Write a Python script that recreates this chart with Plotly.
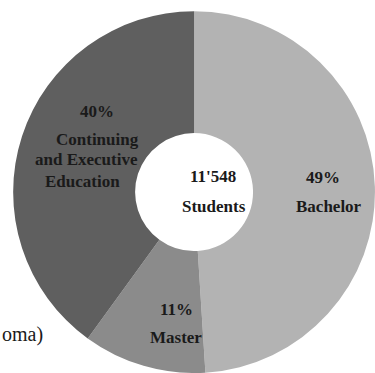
import plotly.graph_objects as go

# ---- data ----
categories = ["Bachelor", "Master", "Continuing and Executive Education"]
shares = [49, 11, 40]
label_lines = [["Bachelor"], ["Master"], ["Continuing", "and Executive", "Education"]]
center_lines = ["11'548", "Students"]
fragment_text = "oma)"

colors = ["#b3b3b3", "#8b8b8b", "#5f5f5f"]

W, H = 375, 373
FONT = "Liberation Serif"

fig = go.Figure()
fig.add_trace(go.Pie(
    labels=categories,
    values=shares,
    sort=False,
    direction="clockwise",
    rotation=0,
    hole=0.326,
    textinfo="none",
    hoverinfo="skip",
    showlegend=False,
    marker=dict(colors=colors, line=dict(width=0)),
    domain=dict(x=[0.035, 1.0], y=[0.0, 0.97]),
))

# label block positions (pixel centre x, baseline y for each line)
label_pos = [
    [(323, 183), (329, 212)],
    [(176, 315), (176, 343)],
    [(97, 118), (98, 145), (86, 165), (82, 187)],
]
center_pos = [(213, 182), (214, 212)]


def px(x, y):
    return x / W, 1 - y / H


annotations = []
BASE_OFF = 6
for i, cat in enumerate(categories):
    lines = [f"{shares[i]}%"] + label_lines[i]
    for line, (x, y) in zip(lines, label_pos[i]):
        xp, yp = px(x, y - BASE_OFF)
        annotations.append(dict(
            text=f"<b>{line}</b>", x=xp, y=yp, xref="paper", yref="paper",
            xanchor="center", yanchor="middle", showarrow=False,
            font=dict(family=FONT, size=17, color="#1a1a1a"),
        ))
for line, (x, y) in zip(center_lines, center_pos):
    xp, yp = px(x, y - BASE_OFF)
    annotations.append(dict(
        text=f"<b>{line}</b>", x=xp, y=yp, xref="paper", yref="paper",
        xanchor="center", yanchor="middle", showarrow=False,
        font=dict(family=FONT, size=17, color="#1a1a1a"),
    ))
xp, yp = px(0, 334)
annotations.append(dict(
    text=fragment_text, x=xp, y=yp, xref="paper", yref="paper",
    xanchor="left", yanchor="middle", showarrow=False,
    font=dict(family=FONT, size=20, color="#1a1a1a"),
))

fig.update_layout(
    width=W, height=H,
    margin=dict(l=0, r=0, t=0, b=0),
    paper_bgcolor="white", plot_bgcolor="white",
    annotations=annotations,
)

fig.write_html("out.html")
